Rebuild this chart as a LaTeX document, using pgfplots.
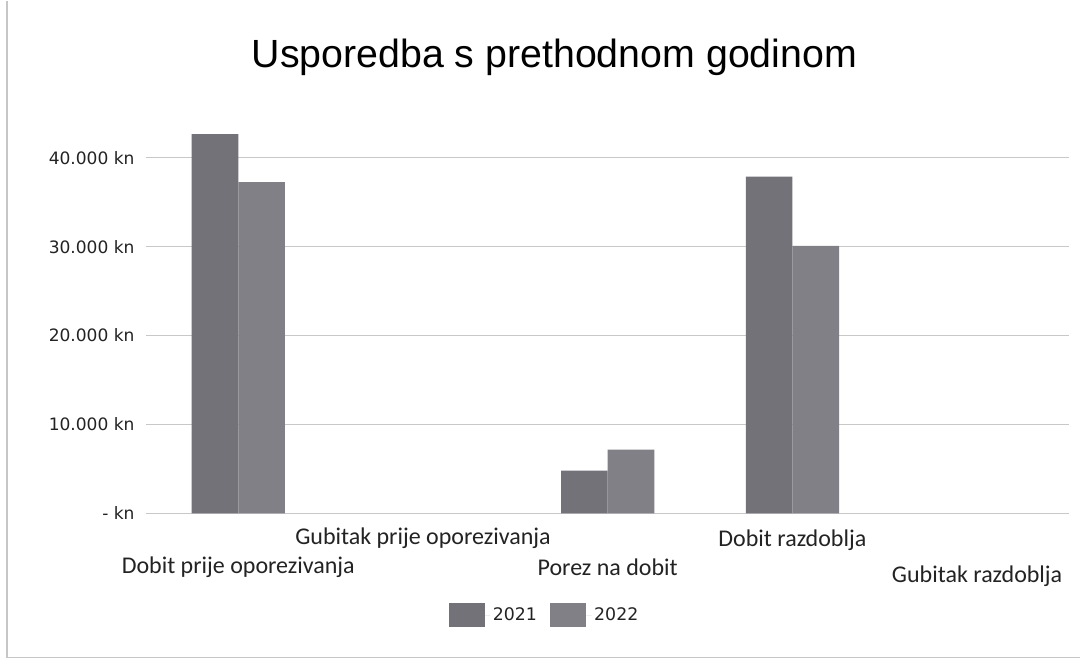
\documentclass[border=0pt]{standalone}
\usepackage{fontspec}
\usepackage{pgfplots}
\pgfplotsset{compat=1.18}
\setmainfont{Liberation Sans}
\newfontfamily\titlefont{Liberation Sans}
\newfontfamily\tickfont{DejaVu Sans}
\newfontfamily\catfont{Carlito}
\definecolor{cA}{RGB}{114,114,120}
\definecolor{cB}{RGB}{128,128,134}
\definecolor{gridc}{RGB}{200,200,200}
\definecolor{txt}{RGB}{35,35,35}
\begin{document}
\begin{tikzpicture}[x=1pt,y=1pt]
\path[fill=white] (0,0) rectangle (810.75,495.75);
\draw[gray!45, line width=0.8pt] (5.25,495.75) -- (5.25,3) -- (810.75,3);
\node[anchor=base, text=black, font=\titlefont\fontsize{29.5}{34}\selectfont] at (416,445.5) {Usporedba s prethodnom godinom};
\begin{axis}[
  at={(109.5pt,111pt)}, anchor=south west,
  scale only axis, width=693pt, height=300pt,
  ybar=0pt, bar width=35pt,
  xmin=-0.5, xmax=4.5, ymin=0, ymax=45000,
  xtick=\empty,
  scaled y ticks=false,
  ytick={0,10000,20000,30000,40000},
  yticklabels={- kn,10.000 kn,20.000 kn,30.000 kn,40.000 kn},
  yticklabel style={font=\tickfont\fontsize{12.8}{15}\selectfont, text=txt, xshift=-5pt},
  ymajorgrids, major grid style={draw=gridc, line width=0.8pt},
  axis line style={draw=none},
  major tick length=0pt,
  ytick style={draw=none},
  clip=false,
  legend image code/.code={\fill[#1] (0pt,-9pt) rectangle (27pt,9pt); \path (27pt,0pt) -- (31pt,0pt);},
  legend style={draw=none, fill=none, at={(0.432,-0.255)}, anchor=center,
    legend columns=2, font=\tickfont\fontsize{13}{16}\selectfont, text=txt,
    /tikz/every even column/.append style={column sep=8pt},
    /tikz/every odd column/.append style={column sep=0pt}},
]
\addplot[fill=cA, draw=none] coordinates {(0,42690) (2,4790) (3,37900)};
\addplot[fill=cB, draw=none] coordinates {(0,37270) (2,7170) (3,30100)};
\legend{2021,2022}
\node[anchor=base, text=txt, font=\catfont\fontsize{18}{21}\selectfont] at (axis cs:0,0) [yshift=-45pt] {Dobit prije oporezivanja};
\node[anchor=base, text=txt, font=\catfont\fontsize{18}{21}\selectfont] at (axis cs:1,0) [yshift=-23.25pt] {Gubitak prije oporezivanja};
\node[anchor=base, text=txt, font=\catfont\fontsize{18}{21}\selectfont] at (axis cs:2,0) [yshift=-47pt] {Porez na dobit};
\node[anchor=base, text=txt, font=\catfont\fontsize{18}{21}\selectfont] at (axis cs:3,0) [yshift=-25pt] {Dobit razdoblja};
\node[anchor=base, text=txt, font=\catfont\fontsize{18}{21}\selectfont] at (axis cs:4,0) [yshift=-52pt] {Gubitak razdoblja};
\end{axis}
\end{tikzpicture}
\end{document}
